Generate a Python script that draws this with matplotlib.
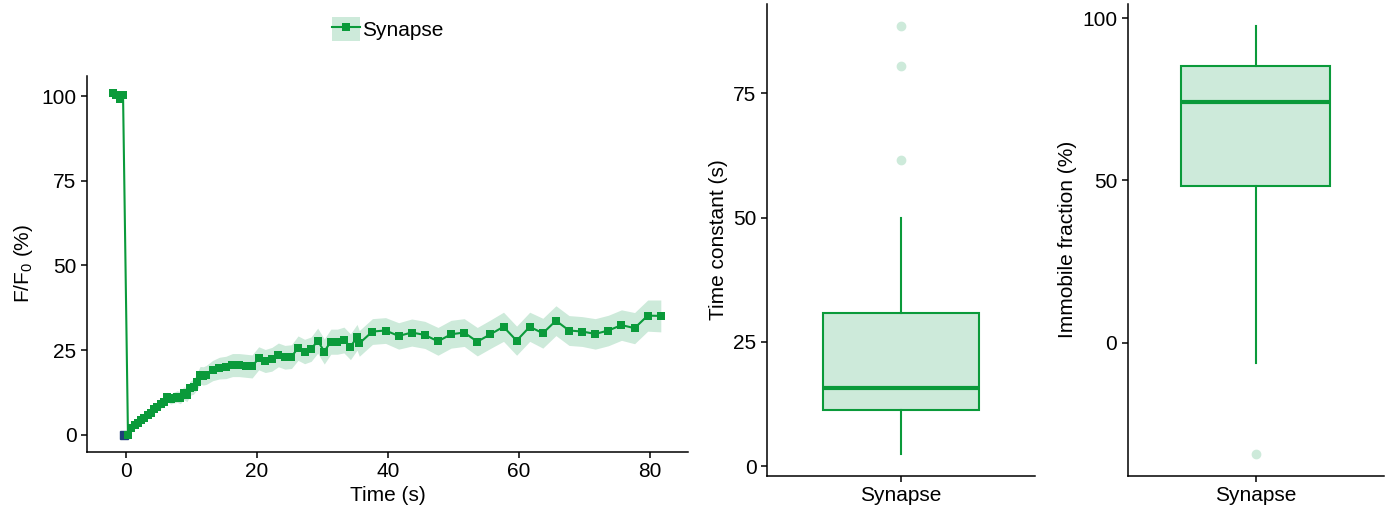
import matplotlib
matplotlib.use("Agg")
import matplotlib.pyplot as plt
from matplotlib.patches import Patch
from matplotlib.lines import Line2D
from matplotlib.legend_handler import HandlerTuple
import numpy as np

plt.rcParams['font.family'] = ['Liberation Sans', 'DejaVu Sans']
plt.rcParams['font.size'] = 15

# ---------------- data ----------------
series_name = "Synapse"

pre_time = [-1.9, -1.5, -0.9, -0.4]
pre_value = [101.0, 100.4, 99.0, 100.2]
pre_sem = [0.3, 0.3, 0.3, 0.3]

bleach_time = [-0.25]
bleach_value = [0.0]

early_time = [0.35, 0.85, 1.35, 1.85, 2.35, 2.85, 3.35, 3.85, 4.35, 4.85, 5.35, 5.85,
              6.35, 6.85, 7.35, 7.85, 8.35, 8.85, 9.35, 9.85, 10.35, 10.85, 11.35, 11.85]
early_value = [0.0, 2.0, 2.8, 3.6, 4.3, 5.0, 5.8, 6.6, 7.5, 8.3, 9.0, 9.8,
               11.2, 10.6, 11.0, 11.3, 11.0, 12.3, 11.8, 13.8, 14.2, 15.6, 17.6, 17.4]
early_sem = [0.2, 0.3, 0.4, 0.5, 0.6, 0.7, 0.8, 0.9, 1.0, 1.1, 1.2, 1.3,
             1.4, 1.5, 1.6, 1.7, 1.8, 1.9, 2.0, 2.1, 2.2, 2.4, 2.6, 2.7]

mid_time = [12.3, 13.3, 14.3, 15.3, 16.3, 17.3, 18.3, 19.3, 20.3, 21.3, 22.3, 23.3,
            24.3, 25.3, 26.3, 27.3, 28.3, 29.3, 30.3, 31.3, 32.3, 33.3, 34.3, 35.3]
mid_value = [17.7, 19.0, 19.7, 19.9, 20.6, 20.6, 20.4, 20.2, 22.6, 21.8, 22.3, 23.6,
             22.9, 23.1, 25.6, 24.6, 25.3, 27.8, 24.6, 27.5, 27.5, 28.0, 26.0, 28.8]
mid_sem = [2.8, 3.0, 3.2, 3.3, 3.4, 3.4, 3.4, 3.4, 3.4, 3.4, 3.5, 3.5,
           3.5, 3.5, 3.6, 3.6, 3.6, 3.7, 3.7, 3.7, 3.7, 3.8, 3.8, 3.8]

late_time = [35.65, 37.65, 39.65, 41.65, 43.65, 45.65, 47.65, 49.65, 51.65, 53.65, 55.65, 57.65,
             59.65, 61.65, 63.65, 65.65, 67.65, 69.65, 71.65, 73.65, 75.65, 77.65, 79.65, 81.65]
late_value = [27.0, 30.5, 30.8, 29.2, 30.2, 29.5, 27.6, 29.7, 30.2, 27.5, 29.7, 31.9,
              27.8, 31.9, 30.0, 33.7, 30.8, 30.5, 29.8, 30.8, 32.4, 31.5, 35.2, 35.1]
late_sem = [3.8, 3.8, 3.8, 3.9, 4.0, 4.0, 4.1, 4.1, 4.1, 4.2, 4.2, 4.3,
            4.3, 4.3, 4.4, 4.4, 4.4, 4.4, 4.5, 4.5, 4.5, 4.6, 4.6, 4.7]

# box plot summaries
tau_stats = dict(med=15.8, q1=11.3, q3=30.9, whislo=2.4, whishi=49.9,
                 fliers=[61.7, 80.6, 88.6], label="Synapse")
imm_stats = dict(med=74.1, q1=48.3, q3=85.4, whislo=-6.2, whishi=97.6,
                 fliers=[-34.3], label="Synapse")

# ---------------- styles ----------------
GREEN = "#0a9a3a"
LIGHT = "#cdeada"
BLUE = "#1f3f7a"

time = np.array(pre_time + early_time + mid_time + late_time)
value = np.array(pre_value + early_value + mid_value + late_value)
sem = np.array(pre_sem + early_sem + mid_sem + late_sem)

fig = plt.figure(figsize=(13.91, 5.08), dpi=100)

def style_axes(ax):
    for s in ['top', 'right']:
        ax.spines[s].set_visible(False)
    for s in ['left', 'bottom']:
        ax.spines[s].set_linewidth(1.1)
        ax.spines[s].set_color('black')
    ax.tick_params(axis='both', which='both', length=4, width=1.1, color='black',
                   labelsize=15, labelcolor='black', pad=3.5)

# main recovery plot
ax1 = fig.add_axes([87 / 1391, 56 / 508, 601 / 1391, 376.5 / 508])
ax1.fill_between(time, value - sem, value + sem, color=LIGHT, linewidth=0, zorder=1)
ax1.plot(bleach_time, bleach_value, marker='s', linestyle='none', color=BLUE,
         markersize=5.5, zorder=2)
ax1.plot(time, value, color=GREEN, linewidth=1.5, marker='s', markersize=5.2,
         markeredgewidth=0, zorder=3)
ax1.set_xlim(-5.9, 85.8)
ax1.set_ylim(-5.05, 106.05)
ax1.set_xticks([0, 20, 40, 60, 80])
ax1.set_yticks([0, 25, 50, 75, 100])
ax1.set_xlabel("Time (s)", fontsize=15, labelpad=3)
ax1.set_ylabel(r"F/F$_{\mathregular{0}}$ (%)", fontsize=15, labelpad=5)
style_axes(ax1)

h_patch = Patch(facecolor=LIGHT, edgecolor='none')
h_line = Line2D([], [], color=GREEN, linewidth=1.5, marker='s', markersize=5.2,
                markeredgewidth=0)
fig.legend([(h_patch, h_line)], [series_name], loc='center',
           bbox_to_anchor=(388 / 1391, 1 - 29 / 508), frameon=False,
           handler_map={tuple: HandlerTuple(ndivide=1, pad=0)},
           handlelength=1.35, handleheight=1.35, handletextpad=0.1,
           borderpad=0.1, fontsize=15)

def box_axes(rect, stats, ylim, yticks, ylabel):
    ax = fig.add_axes(rect)
    ax.bxp([stats], positions=[1], widths=0.7, patch_artist=True, showcaps=False,
           boxprops=dict(facecolor=LIGHT, edgecolor=GREEN, linewidth=1.5),
           medianprops=dict(color=GREEN, linewidth=3),
           whiskerprops=dict(color=GREEN, linewidth=1.5),
           flierprops=dict(marker='o', markerfacecolor=LIGHT, markeredgecolor=LIGHT,
                           markersize=6))
    ax.set_xlim(0.4, 1.6)
    ax.set_ylim(*ylim)
    ax.set_yticks(yticks)
    ax.set_xticks([1])
    ax.set_xticklabels([stats['label']])
    ax.set_ylabel(ylabel, fontsize=15, labelpad=4)
    style_axes(ax)
    return ax

ax2 = box_axes([767 / 1391, 32 / 508, 268 / 1391, 472 / 508], tau_stats,
               (-2.0, 93.0), [0, 25, 50, 75], "Time constant (s)")
ax3 = box_axes([1127.7 / 1391, 32.3 / 508, 256 / 1391, 471.7 / 508], imm_stats,
               (-41.0, 104.4), [0, 50, 100], "Immobile fraction (%)")

fig.savefig("out.png", dpi=100)
